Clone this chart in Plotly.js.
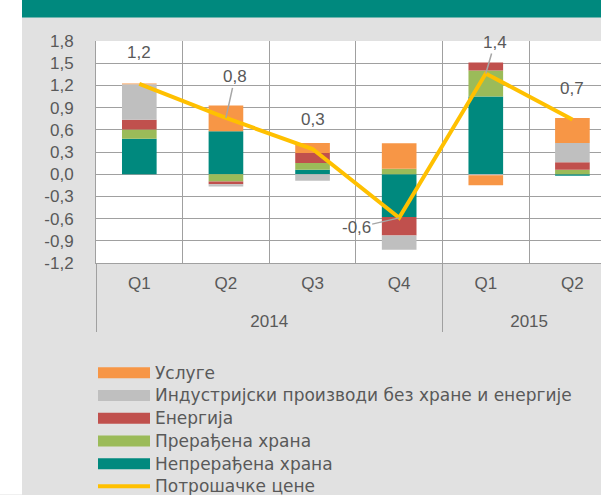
<!DOCTYPE html>
<html>
<head>
<meta charset="utf-8">
<script src="https://cdn.plot.ly/plotly-3.0.1.min.js"></script>
<style>html,body{margin:0;padding:0;background:#fff;}#chart{width:601px;height:495px;}</style>
</head>
<body>
<div id="chart"></div>
<script>
const years = ['2014','2014','2014','2014','2015','2015'];
const quarters = ['Q1','Q2','Q3','Q4','Q1','Q2'];

const seriesNames = ['Непрерађена храна','Прерађена храна','Енергија','Индустријски производи без хране и енергије','Услуге'];
const seriesColors = ['#00897e','#9bbb59','#c0504d','#bfbfbf','#f79646'];
const unprocessedFood = [0.48, 0.58, 0.06, -0.58, 1.05, -0.02];
const processedFood   = [0.125, -0.10, 0.09, 0.074, 0.35, 0.06];
const energy          = [0.13, -0.035, 0.135, -0.25, 0.11, 0.10];
const industrial      = [0.48, -0.03, -0.088, -0.19, -0.015, 0.26];
const services        = [0.01, 0.35, 0.135, 0.345, -0.135, 0.34];
const cpi             = [1.22, 0.76, 0.34, -0.59, 1.36, 0.74];
const cpiName = 'Потрошачке цене';

const yTickVals = [-1.2,-0.9,-0.6,-0.3,0,0.3,0.6,0.9,1.2,1.5,1.8];
const yTickText = ['-1,2','-0,9','-0,6','-0,3','0,0','0,3','0,6','0,9','1,2','1,5','1,8'];

// label offsets (pixels) and whether a leader line is shown
const labelAx = [0, 9, 0, -43, 9, 0];
const labelAy = [-31, -41, -30, 10, -31, -31];
const labelLeader = [false, true, false, true, true, false];

const txtColor = '#595959';
const fontFam = '"Liberation Sans", Arial, sans-serif';
const legendFam = '"DejaVu Sans", "Liberation Sans", sans-serif';
const legendName = s => '<span style="font-size:17px">' + s + '</span>';
// quarter labels get an empty second line so the year row sits lower, as in the reference
const x = [years, quarters.map(q => q + '<br>\u00a0')];

const barData = [unprocessedFood, processedFood, energy, industrial, services];
const traces = [{
  type: 'scatter', mode: 'lines', name: legendName(cpiName), x: x, y: cpi,
  line: {color: '#ffc000', width: 4}, hoverinfo: 'skip'
}];
barData.forEach((vals, i) => {
  traces.push({type: 'bar', name: legendName(seriesNames[i]), x: x, y: vals,
    marker: {color: seriesColors[i]}, width: 0.4});
});

const annotations = cpi.map((v, i) => ({
  xref: 'x', yref: 'y', x: i, y: v,
  text: v.toFixed(1).replace('.', ','),
  showarrow: true, arrowhead: 0, arrowwidth: 1.5,
  arrowcolor: labelLeader[i] ? '#a6a6a6' : 'rgba(0,0,0,0)',
  ax: labelAx[i], ay: labelAy[i], standoff: 0,
  font: {family: fontFam, size: 17, color: txtColor}
}));

const pxX = p => (p - 96) / 505;
const pxY = p => (263.5 - p) / 222;
const shapes = [
  {type: 'rect', xref: 'paper', yref: 'paper', x0: pxX(0), x1: pxX(22), y0: pxY(495), y1: pxY(0),
   fillcolor: '#ffffff', line: {width: 0}, layer: 'below'},
  {type: 'rect', xref: 'paper', yref: 'paper', x0: pxX(22), x1: pxX(601), y0: pxY(18), y1: pxY(0),
   fillcolor: '#00897e', line: {width: 0}, layer: 'below'}
];

const layout = {
  width: 601, height: 495,
  margin: {l: 96, r: 0, t: 41, b: 231.5, autoexpand: false},
  paper_bgcolor: '#e1e1e1', plot_bgcolor: '#ffffff',
  barmode: 'relative', bargap: 0.6,
  showlegend: true,
  font: {family: fontFam, size: 17, color: txtColor},
  xaxis: {
    type: 'multicategory', range: [-0.5, 5.33], automargin: false,
    showgrid: true, gridcolor: '#a0a0a0', gridwidth: 1,
    showline: true, linecolor: '#a0a0a0', linewidth: 1,
    showdividers: true, dividercolor: '#a0a0a0', dividerwidth: 1,
    ticks: '', ticklabelstandoff: 5, tickfont: {size: 17, color: txtColor}
  },
  yaxis: {
    range: [-1.2, 1.8], tickvals: yTickVals, ticktext: yTickText, automargin: false,
    showgrid: true, gridcolor: '#a0a0a0', gridwidth: 1,
    zeroline: true, zerolinecolor: '#a0a0a0', zerolinewidth: 1,
    showline: true, linecolor: '#a0a0a0', linewidth: 1,
    ticks: '', ticklabelstandoff: 18, tickfont: {size: 17, color: txtColor}
  },
  legend: {
    x: pxX(93), xanchor: 'left', y: pxY(357), yanchor: 'top',
    traceorder: 'reversed', bgcolor: 'rgba(0,0,0,0)', itemwidth: 52,
    font: {family: legendFam, size: 15.15, color: txtColor},
    itemclick: false, itemdoubleclick: false
  },
  annotations: annotations,
  shapes: shapes
};

function widenSwatches() {
  document.querySelectorAll('#chart .legend .legendpoints path').forEach(p => {
    p.setAttribute('d', 'M-26,5.5H26V-5.5H-26Z');
  });
}
Plotly.newPlot('chart', traces, layout, {displayModeBar: false, staticPlot: true}).then(widenSwatches);
</script>
</body>
</html>
